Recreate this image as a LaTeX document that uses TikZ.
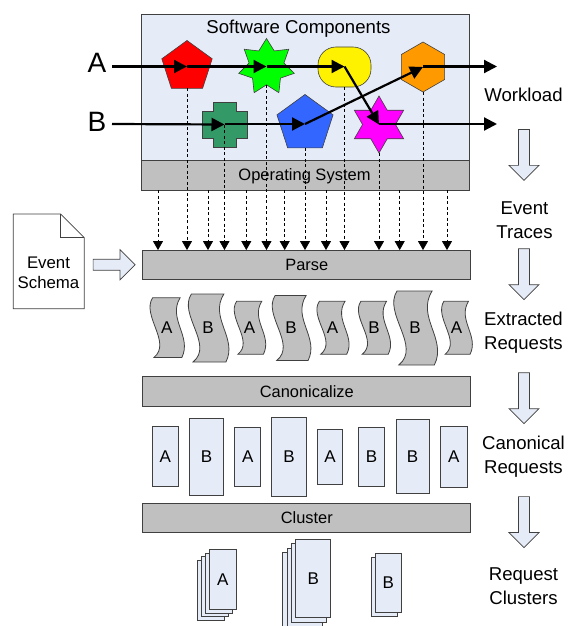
\documentclass[tikz,border=0pt]{standalone}
\usepackage{fontspec}
\setmainfont{Liberation Sans}
\usetikzlibrary{
    shapes.geometric,
    shapes.arrows,
    arrows.meta,
    positioning,
    calc
}
\definecolor{paleblue}{HTML}{E6ECF7}
\definecolor{midgray}{HTML}{C0C0C0}
\definecolor{edgegray}{HTML}{404040}
\definecolor{seagreen}{HTML}{339966}
\definecolor{royal}{HTML}{3366FF}
\definecolor{amber}{HTML}{FF9900}
\definecolor{hotmag}{HTML}{FF00FF}

\begin{document}
\begin{tikzpicture}[
        x=1pt, y=-1pt,
        bar/.style={rectangle, draw=edgegray, fill=midgray, line width=0.9pt, minimum width=328pt, minimum height=29.3pt, inner sep=0pt, outer sep=0pt, font=\fontsize{16.4}{18}\selectfont},
        card/.style={rectangle, draw=edgegray, fill=paleblue, line width=0.9pt, inner sep=0pt, outer sep=0pt, font=\fontsize{17}{18}\selectfont},
        part/.style={draw=edgegray, line width=0.6pt, inner sep=0pt, outer sep=0pt},
        poly/.style={part, regular polygon},
        flow/.style={-{Triangle[length=13pt, width=13pt]}, line width=2.2pt},
        trace/.style={-{Triangle[length=9pt, width=10pt]}, line width=0.7pt, dash pattern=on 3pt off 2.5pt},
        hollow/.style={single arrow, draw=edgegray, fill=paleblue, line width=0.7pt, minimum height=51pt, single arrow head extend=9.6pt, inner xsep=0pt, inner ysep=5.1pt, outer sep=0pt},
        step label/.style={align=center, font=\fontsize{18.6}{23.5}\selectfont, inner sep=0pt}
    ]
    \useasboundingbox (0,0) rectangle (568,626);

    % top box
    \node[rectangle, draw=edgegray, fill=paleblue, line width=0.9pt, minimum width=328pt, minimum height=147pt, inner sep=0pt, outer sep=0pt] (software) at (305,87.5) {};
    \node[font=\fontsize{18.6}{20}\selectfont, inner sep=0pt] (softlabel) at (298.5,28.5) {Software Components};
    \node[bar] (os) at (305,175.5) {};

    % components
    \node[poly, regular polygon sides=5, minimum size=53pt, fill=red] (redpent) at (187,67) {};
    \node[part, star, star points=7, star point ratio=1.6, minimum size=57pt, fill=green] (greenstar) at (266.5,67) {};
    \node[part, rectangle, rounded corners=18pt, minimum width=53pt, minimum height=40pt, fill=yellow] (yellowbox) at (344.5,67) {};
    \node[poly, regular polygon sides=6, shape border rotate=90, minimum size=50pt, fill=amber] (orangehex) at (423,67) {};
    \coordinate (greencross) at (224.5,124.5);
    \draw[part, fill=seagreen] (213,102) -- (236,102) -- (236,111) -- (247,111) -- (247,138) -- (236,138) -- (236,147) -- (213,147) -- (213,138) -- (202,138) -- (202,111) -- (213,111) -- cycle;
    \node[poly, regular polygon sides=5, minimum size=59pt, fill=royal] (bluepent) at (305,124) {};
    \node[part, star, star points=6, star point ratio=1.73, minimum size=57pt, fill=hotmag] (magstar) at (379,124.5) {};

    \node[bar] (parse) at (306.8,264.7) {Parse};
    \node[bar] (canon) at (306.8,391.3) {Canonicalize};
    \node[bar] (cluster) at (306.8,517.7) {Cluster};
    \node[font=\fontsize{16.5}{18}\selectfont, inner sep=0pt] (oslabel) at (304.5,176.5) {Operating System};

    % traces
    \foreach \src in {redpent, greencross, greenstar, bluepent, yellowbox, magstar, orangehex}
        \draw[trace] (\src) -- (\src |- parse.north);
    \foreach \x in {158,208,246.3,284.7,326,399.7,447} {
        \coordinate (osfoot) at (\x,190.2);
        \draw[trace] (osfoot) -- (osfoot |- parse.north);
    }

    % request paths
    \node[font=\fontsize{28}{30}\selectfont, inner sep=0pt] (labela) at (97,63) {A};
    \node[font=\fontsize{28}{30}\selectfont, inner sep=0pt] (labelb) at (97,122) {B};
    \coordinate (enda) at (497,66.5);
    \coordinate (endb) at (497,124);
    \coordinate (starta) at (112,66.5);
    \coordinate (startb) at (112,124);
    \draw[flow] (starta) -- (redpent.center |- starta);
    \draw[flow] (redpent.center |- starta) -- (greenstar.center |- starta);
    \draw[flow] (greenstar.center |- starta) -- (yellowbox.center |- starta);
    \draw[flow] (yellowbox.center |- starta) -- (magstar.center);
    \draw[flow] (magstar.center |- endb) -- (endb);
    \draw[flow] (startb) -- (greencross);
    \draw[flow] (greencross |- startb) -- (bluepent.center |- startb);
    \draw[flow] (bluepent.center |- startb) -- (orangehex.center);
    \draw[flow] (orangehex.center |- enda) -- (enda);

    % schema
    \draw[draw=edgegray, fill=white, line width=0.7pt] (13.3,214) -- (60.7,214) -- (84.3,237.7) -- (84.3,308.7) -- (13.3,308.7) -- cycle;
    \draw[draw=edgegray, line width=0.7pt] (60.7,214) -- (60.7,237.7) -- (84.3,237.7);
    \node[align=center, font=\fontsize{16.8}{20}\selectfont, inner sep=0pt] (schema) at (48.5,272.5) {Event\\Schema};
    \node[hollow, minimum height=42pt] (schemaarrow) at (111.4,264.7) {};

    % extracted requests
    \foreach \nm/\cx/\cy/\w/\h/\txt in {e1/166.7/327.6/35.3/59.7/A, e2/208/328/41.7/68/B, e3/249.5/327.8/32.3/53/A, e4/291/328/39.7/65/B, e5/332.5/327.8/33/53/A, e6/374/327.8/33/53/B, e7/415/328/45/74/B, e8/456.5/327.8/31.6/53/A} {
        \begin{scope}[shift={(\cx,\cy)}, x=\w pt, y=-\h pt]
            \draw[draw=edgegray, fill=midgray, line width=0.8pt] (-.40,-.5) .. controls (-.72,-.2) and (.15,.25) .. (-.36,.5) -- (.43,.5) .. controls (.72,.15) and (.02,-.15) .. (.38,-.5) -- cycle;
            \node[font=\fontsize{17}{18}\selectfont, inner sep=0pt] (\nm) at (0,0) {\txt};
        \end{scope}
    }

    % canonical requests
    \foreach \nm/\xa/\xb/\ya/\yb/\txt in {c1/152/178.7/426.7/486.7/A, c2/189.3/223.7/418.3/495.3/B, c3/234.7/260.7/427.7/486/A, c4/271.3/306.7/417.3/496/B, c5/317.7/342.3/429.3/484/A, c6/358.3/384.7/427.3/486.7/B, c7/396/429.3/419.3/493.7/B, c8/440.3/467.3/426.3/487.7/A}
        \node[card, minimum width=\xb pt-\xa pt, minimum height=\yb pt-\ya pt] (\nm) at ({(\xa+\xb)/2},{(\ya+\yb)/2}) {\txt};

    % clusters
    \foreach \n in {3,2,1}
        \node[card, minimum width=26.7pt, minimum height=60pt] at ({222.7-\n*4},{579.3+\n*3.7}) {};
    \node[card, minimum width=26.7pt, minimum height=60pt] (stacka) at (222.7,579.3) {A};
    \foreach \n in {3,2,1}
        \node[card, minimum width=35pt, minimum height=78.3pt] at ({313.2-\n*4.3},{578.5+\n*4.4}) {};
    \node[card, minimum width=35pt, minimum height=78.3pt] (stackb) at (313.2,578.5) {B};
    \node[card, minimum width=26.3pt, minimum height=58.7pt] at (384.5,586.7) {};
    \node[card, minimum width=26.3pt, minimum height=58.7pt] (stackc) at (388.2,582.7) {B};

    % right column
    \node[step label] (workload) at (523.5,95) {Workload};
    \node[step label] (traces) at (524.5,220) {Event\\Traces};
    \node[step label] (extracted) at (523.5,332.5) {Extracted\\Requests};
    \node[step label] (canonical) at (523.5,456.5) {Canonical\\Requests};
    \node[step label] (clusters) at (523.5,586) {Request\\Clusters};
    \foreach \nm/\cy in {d1/152.2, d2/271.5, d3/395.5, d4/519.4}
        \node[hollow, rotate=-90] (\nm) at (524,\cy) {};
\end{tikzpicture}
\end{document}
